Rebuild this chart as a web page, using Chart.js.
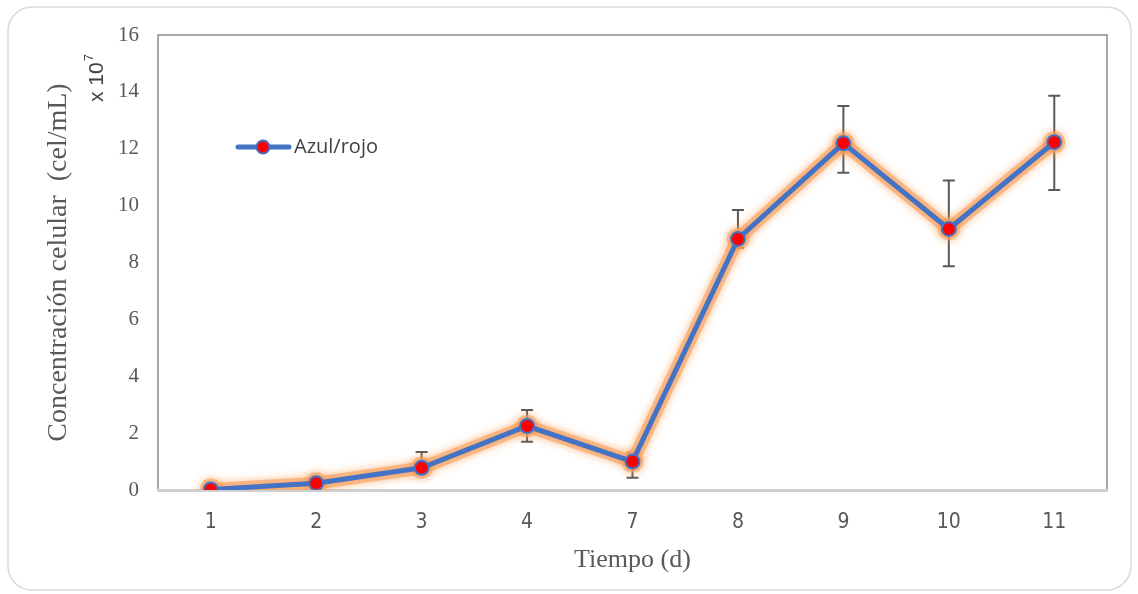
<!DOCTYPE html>
<html>
<head>
<meta charset="utf-8">
<script src="https://cdn.jsdelivr.net/npm/chart.js@4/dist/chart.umd.min.js"></script>
<style>
  html, body { margin: 0; padding: 0; background: #fff; }
  #wrap { width: 1138px; height: 594px; position: relative; }
</style>
</head>
<body>
<div id="wrap"><canvas id="cellChart"></canvas></div>
<script>
'use strict';

// --- data ---
const DAYS = ['1', '2', '3', '4', '7', '8', '9', '10', '11'];
const CONC = [0.02, 0.24, 0.78, 2.25, 1.0, 8.83, 12.19, 9.18, 12.23];
const ERR_UP = [0, 0, 0.56, 0.56, 0.31, 1.02, 1.31, 1.70, 1.63];
const ERR_DOWN = [0, 0, 0, 0.55, 0.57, 0.31, 1.03, 1.31, 1.68];
const Y_TICKS = [0, 2, 4, 6, 8, 10, 12, 14, 16];

const BLUE = '#4472c4';
const GREY = '#595959';

// frame round the whole chart + box round the plot
const framePlugin = {
  id: 'frame',
  beforeDraw(chart) {
    const { ctx, chartArea: a } = chart;
    ctx.save();
    ctx.strokeStyle = '#d9d9d9';
    ctx.lineWidth = 1.5;
    ctx.beginPath();
    ctx.roundRect(8, 7, 1123, 583, 24);
    ctx.stroke();
    ctx.strokeStyle = '#8c8c8c';
    ctx.lineWidth = 1.5;
    ctx.strokeRect(a.left, a.top, a.right - a.left, a.bottom - a.top);
    ctx.restore();
  },
  afterDraw(chart) {
    const { ctx } = chart;
    // "x 10^7" multiplier next to the y axis
    ctx.save();
    ctx.translate(103, 78);
    ctx.rotate(-Math.PI / 2);
    ctx.fillStyle = '#404040';
    ctx.textBaseline = 'alphabetic';
    ctx.font = '21px "Liberation Sans", sans-serif';
    ctx.textAlign = 'left';
    const w = ctx.measureText('x 10').width;
    ctx.fillText('x 10', -24, 0);
    ctx.font = '13px "Liberation Sans", sans-serif';
    ctx.fillText('7', -24 + w + 1, -10);
    ctx.restore();

    // legend inside the plot
    const ds = chart.data.datasets[1];
    ctx.save();
    ctx.strokeStyle = BLUE;
    ctx.lineWidth = 5;
    ctx.lineCap = 'round';
    ctx.beginPath();
    ctx.moveTo(238, 147);
    ctx.lineTo(289, 147);
    ctx.stroke();
    ctx.beginPath();
    ctx.arc(263, 147, 6.5, 0, Math.PI * 2);
    ctx.fillStyle = '#ff0000';
    ctx.fill();
    ctx.lineWidth = 2;
    ctx.stroke();
    ctx.fillStyle = '#404040';
    ctx.font = '20px "Open Sans", sans-serif';
    ctx.textBaseline = 'middle';
    ctx.fillText(ds.label, 294, 147);
    ctx.restore();
  }
};

// error bars, from the y scale
const errorBarPlugin = {
  id: 'errorBars',
  beforeDatasetsDraw(chart) {
    const { ctx, scales: { x, y } } = chart;
    ctx.save();
    ctx.strokeStyle = GREY;
    ctx.lineWidth = 2;
    CONC.forEach((v, i) => {
      const px = x.getPixelForValue(i);
      const top = y.getPixelForValue(v + ERR_UP[i]);
      const bot = y.getPixelForValue(v - ERR_DOWN[i]);
      const mid = y.getPixelForValue(v);
      ctx.beginPath();
      if (ERR_UP[i] > 0) {
        ctx.moveTo(px, mid); ctx.lineTo(px, top);
        ctx.moveTo(px - 6, top); ctx.lineTo(px + 6, top);
      }
      if (ERR_DOWN[i] > 0) {
        ctx.moveTo(px, mid); ctx.lineTo(px, bot);
        ctx.moveTo(px - 6, bot); ctx.lineTo(px + 6, bot);
      }
      ctx.stroke();
    });
    ctx.restore();
  }
};

// orange soft glow round the halo dataset
const glowPlugin = {
  id: 'glow',
  beforeDatasetDraw(chart, args) {
    const ctx = chart.ctx;
    ctx.save();
    if (args.index === 0) {
      ctx.shadowColor = 'rgba(250,150,70,1)';
      ctx.shadowBlur = 8;
    }
  },
  afterDatasetDraw(chart) {
    chart.ctx.restore();
  }
};

const c1 = document.getElementById('cellChart');
new Chart(c1.getContext('2d'), {
  type: 'line',
  data: {
    labels: DAYS,
    datasets: [
      {
        // glow halo behind the series
        label: 'glow',
        data: CONC,
        order: 2,
        borderColor: 'rgba(247,160,95,0.6)',
        borderWidth: 13,
        pointBackgroundColor: 'rgba(247,160,95,0.6)',
        pointBorderWidth: 0,
        pointRadius: 11,
        tension: 0,
        fill: false,
      },
      {
        label: 'Azul/rojo',
        data: CONC,
        order: 1,
        borderColor: BLUE,
        borderWidth: 5,
        backgroundColor: '#ff0000',
        pointBackgroundColor: '#ff0000',
        pointBorderColor: BLUE,
        pointBorderWidth: 2,
        pointRadius: 7,
        tension: 0,
        fill: false,
      },
    ],
  },
  options: {
    responsive: true,
    maintainAspectRatio: false,
    animation: false,
    layout: { padding: { top: 35, right: 31, left: 0, bottom: 0 } },
    plugins: {
      legend: { display: false },
      tooltip: { enabled: false },
    },
    scales: {
      x: {
        offset: true,
        grid: { display: false, drawTicks: false },
        border: { display: true, color: '#d0d0d0', width: 3 },
        ticks: {
          color: GREY,
          padding: 20,
          font: { family: '"Liberation Sans Narrow", "DejaVu Sans Condensed", sans-serif', size: 21 },
        },
        title: {
          display: true,
          text: 'Tiempo (d)',
          color: GREY,
          font: { family: '"Liberation Serif", serif', size: 26 },
          padding: { top: 0, bottom: 18 },
        },
        afterFit(scale) { scale.height = 104; },
      },
      y: {
        min: 0,
        max: 16,
        grid: { display: false, drawTicks: false },
        border: { display: false },
        afterBuildTicks(scale) { scale.ticks = Y_TICKS.map(v => ({ value: v })); },
        ticks: {
          color: GREY,
          padding: 19,
          font: { family: '"Liberation Serif", serif', size: 21 },
        },
        title: {
          display: true,
          text: 'Concentración celular  (cel/mL)',
          color: GREY,
          font: { family: '"Liberation Serif", serif', size: 28 },
          padding: { top: 42, bottom: 0 },
        },
        afterFit(scale) { scale.width = 158; },
      },
    },
  },
  plugins: [framePlugin, errorBarPlugin, glowPlugin],
});
</script>
</body>
</html>
